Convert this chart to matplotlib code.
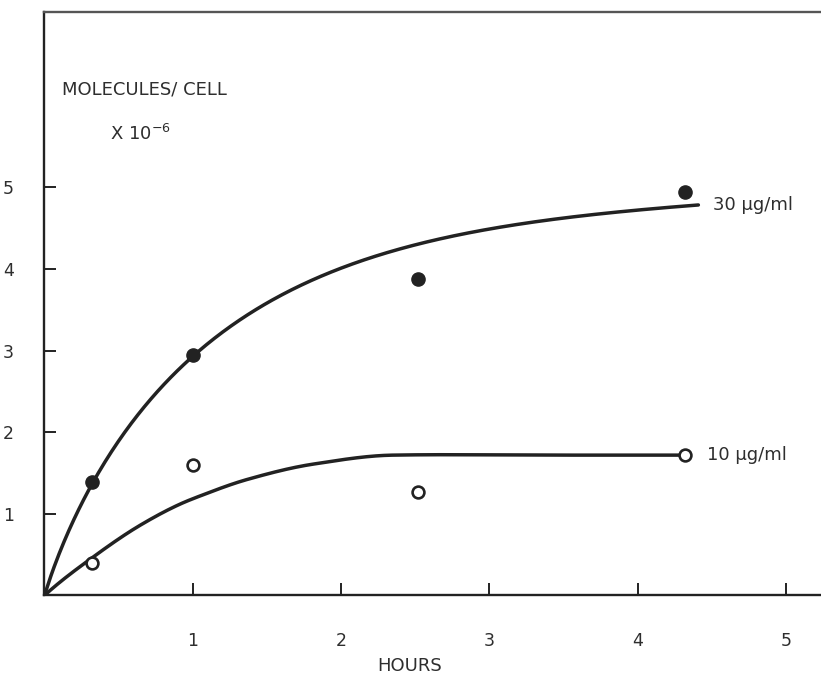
import numpy as np
import matplotlib
matplotlib.use("Agg")
import matplotlib.pyplot as plt

# measured data points (hours, molecules/cell x 1e-6)
hours = [0.32, 1.0, 2.52, 4.32]
high_dose = [1.39, 2.95, 3.88, 4.94]   # 30 ug/ml (filled)
low_dose = [0.40, 1.60, 1.27, 1.72]    # 10 ug/ml (open)

# hand-drawn fitted curves
curve_high_x = [0.0, 0.06, 0.18, 0.32, 0.566, 0.80, 1.0, 1.43, 1.88, 2.26, 2.67, 3.0, 3.75, 4.41]
curve_high_y = [0.0, 0.32, 0.86, 1.39, 2.02, 2.55, 2.95, 3.55, 3.93, 4.14, 4.35, 4.50, 4.70, 4.785]
curve_low_x = [0.0, 0.32, 0.645, 0.915, 1.05, 1.364, 1.813, 2.353, 2.67, 3.5, 4.31]
curve_low_y = [0.0, 0.46, 0.86, 1.12, 1.22, 1.42, 1.61, 1.72, 1.725, 1.72, 1.72]

x_ticks = [1, 2, 3, 4, 5]
y_ticks = [1, 2, 3, 4, 5]
labels = ["30 µg/ml", "10 µg/ml"]

INK = "#222222"
TXT = "#2e2e2e"


def smooth_draw(xs, ys, deg=5, n=400):
    """Smooth least-squares rendering (in sqrt(x)) of a hand-drawn curve."""
    x = np.asarray(xs, float)
    y = np.asarray(ys, float)
    w = np.ones_like(x)
    w[0] = 10.0
    w[-1] = 5.0
    c = np.polyfit(np.sqrt(x), y, deg, w=w)
    xx = np.linspace(x[0], x[-1], n)
    return xx, np.polyval(c, np.sqrt(xx))


def pchip_draw(xs, ys, n=400):
    """Monotone cubic rendering of a hand-drawn curve through read points."""
    x = np.asarray(xs, float)
    y = np.asarray(ys, float)
    h = np.diff(x)
    d = np.diff(y) / h
    m = np.zeros_like(x)
    for k in range(1, len(x) - 1):
        if d[k - 1] * d[k] > 0:
            w1 = 2 * h[k] + h[k - 1]
            w2 = h[k] + 2 * h[k - 1]
            m[k] = (w1 + w2) / (w1 / d[k - 1] + w2 / d[k])
    m[0] = d[0] * 1.15
    m[-1] = d[-1]
    xx = np.linspace(x[0], x[-1], n)
    idx = np.clip(np.searchsorted(x, xx) - 1, 0, len(x) - 2)
    t = (xx - x[idx]) / h[idx]
    h00 = 2 * t ** 3 - 3 * t ** 2 + 1
    h10 = t ** 3 - 2 * t ** 2 + t
    h01 = -2 * t ** 3 + 3 * t ** 2
    h11 = t ** 3 - t ** 2
    yy = h00 * y[idx] + h10 * h[idx] * m[idx] + h01 * y[idx + 1] + h11 * h[idx] * m[idx + 1]
    return xx, yy


fig = plt.figure(figsize=(8.21, 6.78), dpi=100)
ax = fig.add_axes([0.0541, 0.1217, 0.9459, 0.8606])
ax.set_xlim(0, 5.237)
ax.set_ylim(0, 7.15)

for s in ["left", "bottom", "top"]:
    ax.spines[s].set_linewidth(1.7)
    ax.spines[s].set_color(INK)
ax.spines["top"].set_color("#555555")
ax.spines["right"].set_visible(False)

ax.set_xticks(x_ticks)
ax.set_yticks(y_ticks)
ax.tick_params(direction="in", length=8.5, width=1.4, colors=INK, labelsize=12.5)
ax.tick_params(axis="x", pad=26)
ax.tick_params(axis="y", pad=22)
for lab in ax.get_xticklabels() + ax.get_yticklabels():
    lab.set_color(TXT)

cx, cy = smooth_draw(curve_high_x, curve_high_y)
ax.plot(cx, cy, color=INK, lw=2.5, solid_capstyle="round")
cx, cy = pchip_draw(curve_low_x, curve_low_y)
ax.plot(cx, cy, color=INK, lw=2.5, solid_capstyle="round")

ax.plot(hours, high_dose, "o", color=INK, ms=9.5, mec=INK, zorder=5)
ax.plot(hours, low_dose, "o", color=INK, ms=8.5, mfc="white", mec=INK, mew=1.9, zorder=5)

ax.text(4.51, 4.78, labels[0], fontsize=13, color=TXT, va="center", ha="left")
ax.text(4.47, 1.72, labels[1], fontsize=13, color=TXT, va="center", ha="left")

fig.text(62 / 821, 1 - 89 / 678, "MOLECULES/ CELL", fontsize=13, color=TXT,
         va="center", ha="left")
fig.text(110 / 821, 1 - 134 / 678, r"X 10$^{-6}$", fontsize=13, color=TXT,
         va="center", ha="left")
fig.text(410 / 821, 1 - 666 / 678, "HOURS", fontsize=13, color=TXT,
         va="center", ha="center")

fig.savefig("out.png", dpi=100)
